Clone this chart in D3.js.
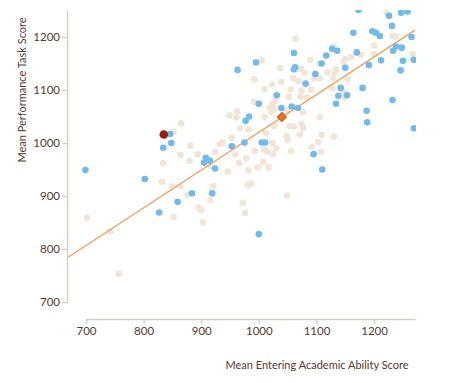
<!DOCTYPE html>
<html><head><meta charset="utf-8">
<script src="https://cdn.jsdelivr.net/npm/d3@7"></script>
<style>
html,body{margin:0;padding:0;background:#fff;}
svg{display:block;font-family:Lato,"Open Sans",sans-serif;}
</style></head>
<body><svg id="chart" width="452" height="383"></svg>
<script>
// x = Mean Entering Academic Ability Score, y = Mean Performance Task Score
const xTicks = [700, 800, 900, 1000, 1100, 1200];
const yTicks = [700, 800, 900, 1000, 1100, 1200];
const xLabel = "Mean Entering Academic Ability Score";
const yLabel = "Mean Performance Task Score";

// other schools (beige)
const otherSchools = [
[702,859],[742,833],[757,753],
[852,1021],[865,1037],[881,995],[864,978],[880,966],[894,979],[834,962],[832,927],[849,918],[864,918],[876,902],[896,878],[900,874],[852,861],[903,850],[916,892],[921,919],[932,998],[937,1001],[924,983],[949,1052],[946,946],[916,957],[962,1060],[961,1048],[953,1010],[967,1028],[959,979],[966,962],
[993,985],[978,971],[982,949],[998,954],[1007,964],[1017,954],[1009,988],[1015,984],[1025,979],[1030,990],[1056,985],[1050,1006],[1092,993],[1103,1002],[1108,984],[987,924],[981,921],[1049,901],[972,887],[976,868],
[1064,1197],[1005,1156],[1089,1157],[1105,1150],[1037,1141],[1073,1140],[1079,1133],[1119,1133],[992,1120],[1060,1122],[1069,1117],[1096,1122],[1106,1122],[1039,1115],[1023,1111],[1010,1102],[1055,1101],[1074,1099],[1091,1101],[1072,1087],[1083,1086],[1052,1087],[1029,1080],[1024,1074],[992,1078],[1019,1067],[1026,1064],[1022,1058],[1049,1061],[1077,1058],[1106,1049],[1010,1049],[1027,1032],[1054,1032],[1061,1031],[1074,1036],[1077,1028],[982,1026],[1012,1019],[1048,1013],[1071,1016],[1023,1000],[1109,1015],
[1222,1245],[1232,1202],[1238,1201],[1200,1184],[1200,1168],[1130,1182],[1177,1166],[1160,1162],[1149,1158],[1147,1153],[1134,1139],[1132,1133],[1128,1122],[1154,1121],[1147,1097],[1149,1086],[1128,1103],[1267,1168],[1130,1012]
];

// comparison schools (blue)
const peerSchools = [
[1173,1251],[1226,1240],[1247,1246],[1258,1248],[1231,1221],[1164,1208],[1197,1211],[1203,1208],[1210,1202],[1265,1200],
[1061,1170],[995,1152],[963,1138],[1061,1139],[1063,1143],[1117,1165],[1127,1178],[1136,1174],[1170,1171],[1238,1182],
[1248,1180],[1233,1174],[1212,1156],[1250,1155],[1269,1157],[1246,1137],[1191,1147],[1150,1142],[1109,1150],[1098,1130],
[1081,1112],[1142,1104],[1180,1104],[1138,1089],[1153,1090],[1134,1074],[1232,1081],[1031,1090],[1000,1074],[1039,1066],
[1057,1069],[1068,1066],[1187,1061],[1188,1039],[983,1050],[977,1042],[953,994],[975,1001],[1005,1001],[1011,1001],
[1095,979],[1110,950],[1269,1028],[846,1017],[848,1000],[834,991],[699,949],[802,932],[908,972],[905,963],
[915,967],[924,952],[884,905],[919,905],[859,889],[827,869],[1000,828]
];

const thisSchool = [[835, 1016]];
const meanPoint = [[1040, 1049]];
const regressionLine = [[667, 783], [1271, 1213]];

const svg = d3.select("#chart");
const x = d3.scaleLinear().domain([700, 1271]).range([86, 415]);
const y = d3.scaleLinear().domain([700, 1251]).range([302, 10]);

const textColor = "#5a382b";
const axisColor = "#d9cfc3";

svg.append("defs").append("clipPath").attr("id", "plotClip")
  .append("rect").attr("x", 67).attr("y", 10).attr("width", 349).attr("height", 300);

const plot = svg.append("g").attr("clip-path", "url(#plotClip)");

plot.selectAll("circle.other").data(otherSchools).join("circle")
  .attr("class", "other")
  .attr("cx", d => x(d[0])).attr("cy", d => y(d[1])).attr("r", 3.3)
  .attr("fill", "#f1e5d5");

plot.append("path").datum(regressionLine)
  .attr("d", d3.line().x(d => x(d[0])).y(d => y(d[1])))
  .attr("fill", "none").attr("stroke", "#f4a05e").attr("stroke-width", 1.4);

plot.selectAll("circle.peer").data(peerSchools).join("circle")
  .attr("class", "peer")
  .attr("cx", d => x(d[0])).attr("cy", d => y(d[1])).attr("r", 3.3)
  .attr("fill", "#72baea");

plot.selectAll("circle.self").data(thisSchool).join("circle")
  .attr("class", "self")
  .attr("cx", d => x(d[0])).attr("cy", d => y(d[1])).attr("r", 4.3)
  .attr("fill", "#9b1b0f");

plot.selectAll("path.mean").data(meanPoint).join("path")
  .attr("class", "mean")
  .attr("d", d3.symbol().type(d3.symbolSquare).size(40))
  .attr("transform", d => `translate(${x(d[0])},${y(d[1])}) rotate(45)`)
  .attr("fill", "#ec7420").attr("stroke", "#c9561a").attr("stroke-width", 1);

// axes
const fmt = d3.format("d");
const yAxis = svg.append("g").attr("transform", "translate(67,0)")
  .call(d3.axisLeft(y).tickValues(yTicks).tickFormat(fmt).tickSize(5).tickSizeOuter(0).tickPadding(2));
const xAxis = svg.append("g").attr("transform", "translate(0,319)")
  .call(d3.axisBottom(x).tickValues(xTicks).tickFormat(fmt).tickSize(5).tickSizeOuter(0).tickPadding(3));

[yAxis, xAxis].forEach(g => {
  g.select(".domain").attr("stroke", axisColor).attr("stroke-width", 1.5);
  g.selectAll(".tick line").attr("stroke", axisColor).attr("stroke-width", 1.5);
  g.selectAll(".tick text").attr("fill", textColor)
    .style("font-family", "Lato, sans-serif").style("font-size", "11.5px");
});

svg.append("text")
  .attr("transform", "translate(26,90) rotate(-90)")
  .attr("text-anchor", "middle")
  .attr("fill", textColor).style("font-size", "11px")
  .text(yLabel);

svg.append("text")
  .attr("x", 317).attr("y", 369)
  .attr("text-anchor", "middle")
  .attr("fill", textColor).style("font-size", "11px")
  .text(xLabel);
</script>
</body></html>
